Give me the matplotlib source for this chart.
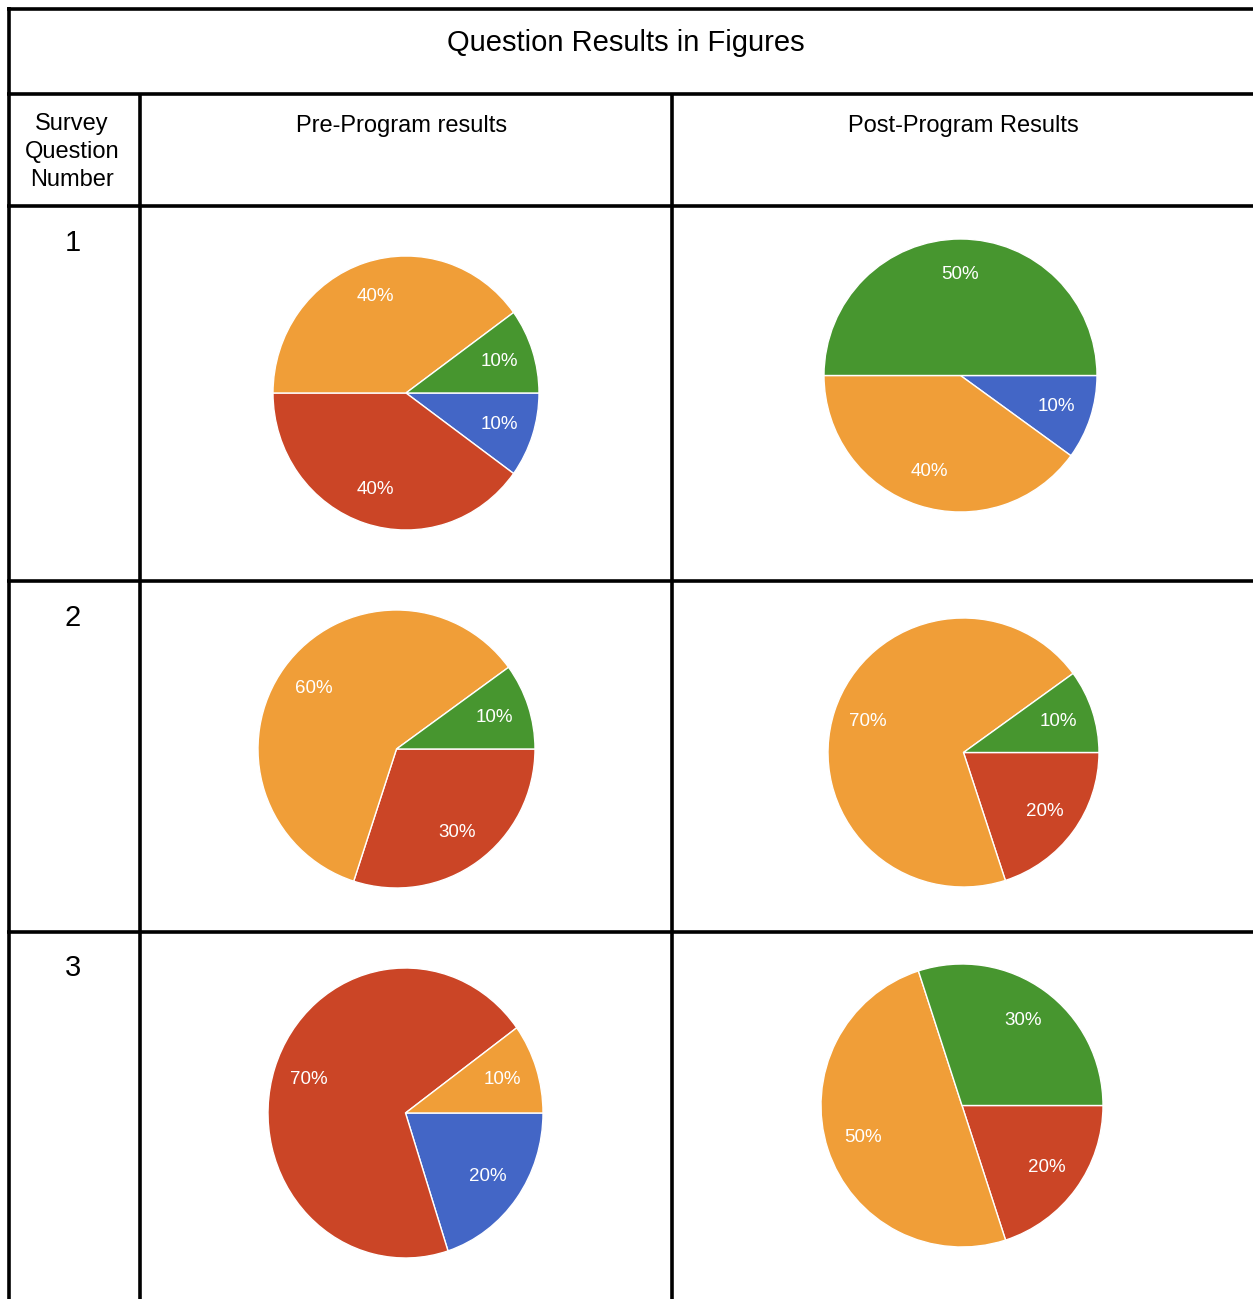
import matplotlib
matplotlib.use("Agg")
import matplotlib.pyplot as plt

plt.rcParams['font.family'] = ['Liberation Sans', 'DejaVu Sans']

W, H = 1253, 1299

# answer options in chart palette order
option_colors = ['#4366C6', '#CB4526', '#F09E38', '#47962F']

# percentage share of each option, per survey question
pre_results = [
    [10, 40, 40, 10],
    [0, 30, 60, 10],
    [20, 70, 10, 0],
]
post_results = [
    [10, 0, 40, 50],
    [0, 20, 70, 10],
    [0, 20, 50, 30],
]
question_numbers = ['1', '2', '3']

title = 'Question Results in Figures'
col_headers = ['Survey\nQuestion\nNumber', 'Pre-Program results', 'Post-Program Results']

# pie boxes in pixels: left, right, top, bottom
pre_boxes = [(273, 539, 256, 530), (258, 535, 610, 888), (268, 543, 968, 1258)]
post_boxes = [(824, 1097, 239, 512), (828, 1099, 618, 887), (821, 1103, 964, 1247)]

fig = plt.figure(figsize=(W / 100, H / 100), dpi=100)
bg = fig.add_axes([0, 0, 1, 1])
bg.set_xlim(0, W)
bg.set_ylim(H, 0)
bg.axis('off')

lw = 2.6
# table grid
for y in [8.5, 93.5, 205.5, 581, 932]:
    bg.plot([7, W + 5], [y, y], color='black', lw=lw, solid_capstyle='butt')
bg.plot([8.5, 8.5], [7, H + 5], color='black', lw=lw, solid_capstyle='butt')
for x in [139.5, 671.5]:
    bg.plot([x, x], [93.5, H + 5], color='black', lw=lw, solid_capstyle='butt')

bg.text(626, 51, title, fontsize=21, ha='center', va='baseline')
bg.text(72, 185.5, col_headers[0], fontsize=17, ha='center', va='baseline',
        linespacing=1.33, multialignment='center')
bg.text(402, 132, col_headers[1], fontsize=17, ha='center', va='baseline')
bg.text(963, 132, col_headers[2], fontsize=17, ha='center', va='baseline')

for num, yb in zip(question_numbers, [250.5, 625.5, 975.5]):
    bg.text(73, yb, num, fontsize=21, ha='center', va='baseline')


def draw_pie(values, box):
    l, r, t, b = box
    ax = fig.add_axes([l / W, 1 - b / H, (r - l) / W, (b - t) / H])
    vals = [v for v in values if v > 0]
    cols = [c for v, c in zip(values, option_colors) if v > 0]
    wedges, texts, autotexts = ax.pie(
        vals, colors=cols, startangle=0, counterclock=False, radius=1,
        autopct='%.0f%%', pctdistance=0.74,
        wedgeprops={'edgecolor': 'white', 'linewidth': 1.0, 'clip_on': False},
        textprops={'color': 'white', 'fontsize': 13.5})
    ax.set_xlim(-1, 1)
    ax.set_ylim(-1, 1)
    ax.set_aspect('auto')
    ax.axis('off')


for vals, box in zip(pre_results, pre_boxes):
    draw_pie(vals, box)
for vals, box in zip(post_results, post_boxes):
    draw_pie(vals, box)

fig.savefig('out.png', dpi=100)
